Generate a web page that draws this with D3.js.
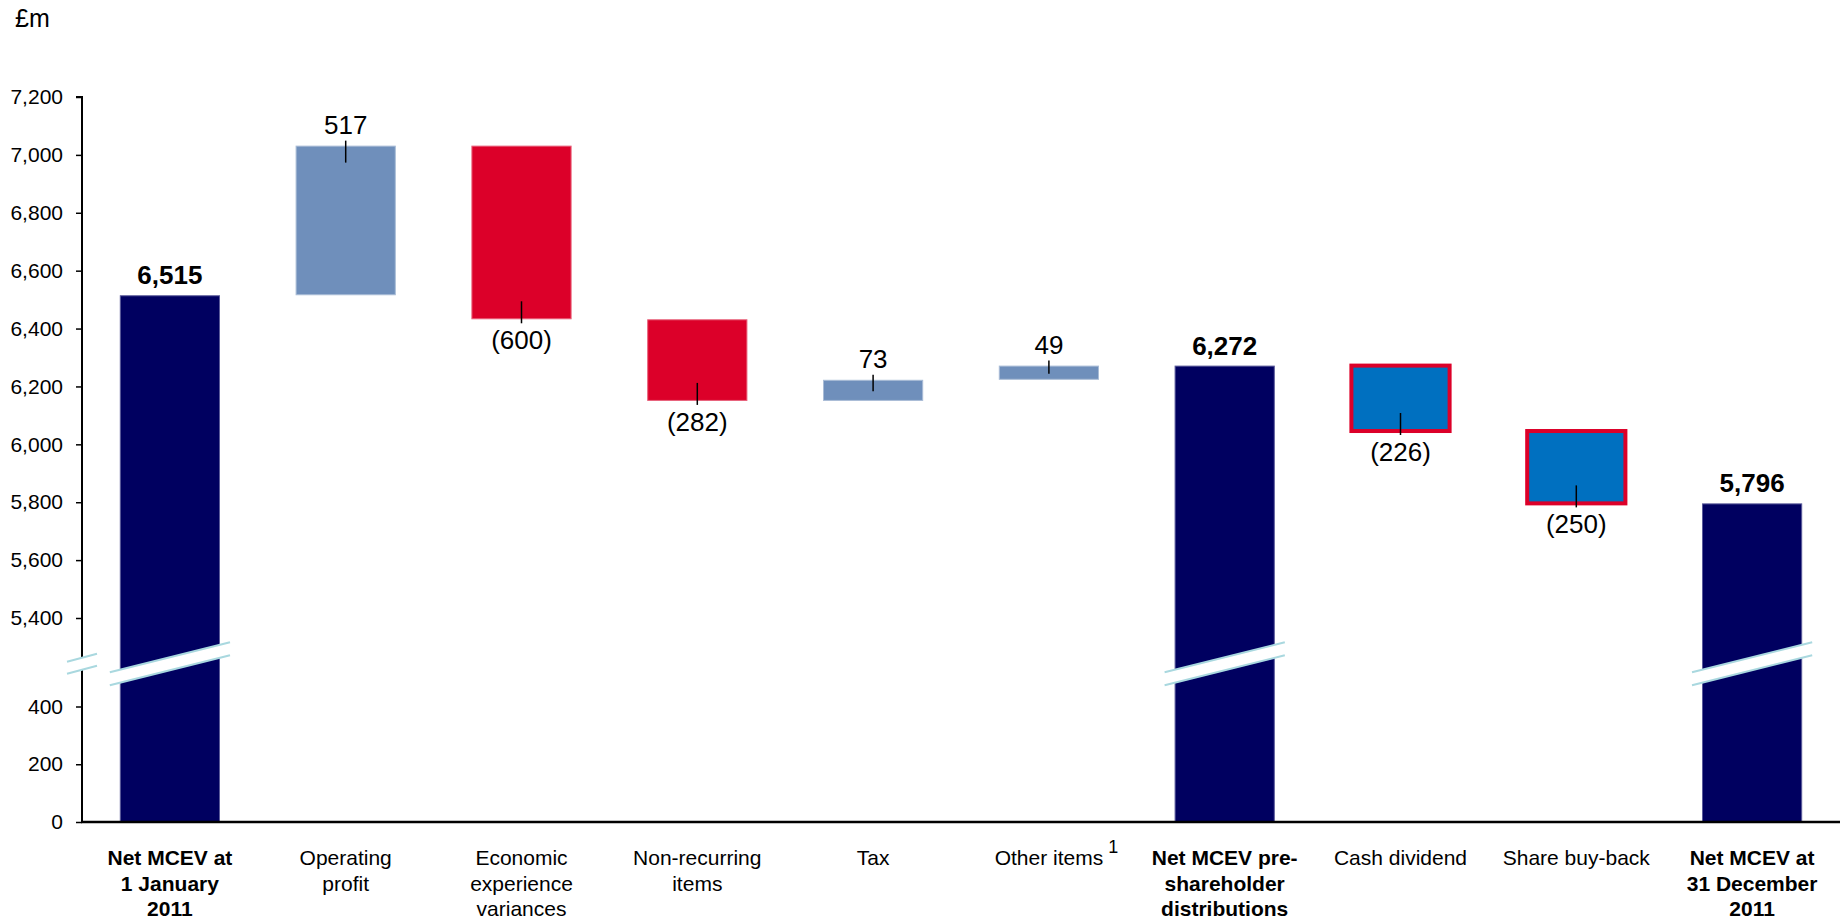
<!DOCTYPE html>
<html><head><meta charset="utf-8">
<script src="https://cdn.jsdelivr.net/npm/d3@7"></script>
<style>
body{margin:0;background:#fff}
svg text{font-family:"Liberation Sans",Arial,Helvetica,sans-serif;fill:#000}
</style>
</head><body>
<svg id="chart" width="1840" height="920"></svg>
<script>
// ---- data ----
const categoryLines = [
  ["Net MCEV at","1 January","2011"],
  ["Operating","profit"],
  ["Economic","experience","variances"],
  ["Non-recurring","items"],
  ["Tax"],
  ["Other items"],
  ["Net MCEV pre-","shareholder","distributions"],
  ["Cash dividend"],
  ["Share buy-back"],
  ["Net MCEV at","31 December","2011"]
];
const values = [6515, 517, -600, -282, 73, 49, 6272, -226, -250, 5796];
const kinds = ["total","up","down","down","up","up","total","dist","dist","total"];
const valueLabels = ["6,515","517","(600)","(282)","73","49","6,272","(226)","(250)","5,796"];
const yTickValues = [0,200,400,5400,5600,5800,6000,6200,6400,6600,6800,7000,7200];
const footnoteIndex = 5;
const footnoteMark = "1";
const unitLabel = "£m";

// ---- layout ----
const axisX = 82, axisRight = 1840;
const svg = d3.select("#chart");

const x = d3.scaleBand().domain(d3.range(values.length))
  .range([axisX, axisRight]).paddingInner(0.43).paddingOuter(0.215);
// broken axis: 0..400 lower segment, 5400..7200 upper segment
const y = d3.scaleLinear().domain([0, 400, 5400, 7200]).range([822, 706.5, 618, 97]);

const colors = {total:"#000060", up:"#6f8fbb", down:"#dc0029", dist:"#0070c0"};
const strokes = {total:"#5a5a9a", up:"#a9bcd6", down:"#e8607a", dist:"#dc0029"};

// compute waterfall extents
let running = 0;
const bars = values.map((v,i) => {
  let a, b;
  if (kinds[i] === "total") { a = 0; b = v; running = v; }
  else { a = running; b = running + v; running = b; }
  return {i, v, lo: Math.min(a,b), hi: Math.max(a,b), kind: kinds[i]};
});

// unit label
svg.append("text").attr("x", 15).attr("y", 27).attr("font-size", 25).text(unitLabel);

// bars
svg.append("g").selectAll("rect").data(bars).join("rect")
  .attr("x", d => x(d.i) + (d.kind === "dist" ? 1 : 0.5))
  .attr("width", d => x.bandwidth() - (d.kind === "dist" ? 2 : 1))
  .attr("y", d => y(d.hi) + (d.kind === "dist" ? 0 : 0.5))
  .attr("height", d => y(d.lo) - y(d.hi) - (d.kind === "dist" ? 0 : 1))
  .attr("fill", d => colors[d.kind])
  .attr("stroke", d => strokes[d.kind])
  .attr("stroke-width", d => d.kind === "dist" ? 4 : 1);

// break bands on total bars
const bandMid = (y(400) + y(5400)) / 2 + 1.5;
const slope = 0.25, half = 6.5;
const breaks = svg.append("g");
bars.filter(d => d.kind === "total").forEach(d => {
  const cx = x(d.i) + x.bandwidth()/2;
  const xl = x(d.i) - 10, xr = x(d.i) + x.bandwidth() + 10;
  const yy = (xx, off) => bandMid + off - slope * (xx - cx);
  breaks.append("polygon")
    .attr("points", [[xl,yy(xl,-half)],[xr,yy(xr,-half)],[xr,yy(xr,half)],[xl,yy(xl,half)]].map(p=>p.join(",")).join(" "))
    .attr("fill", "#fff");
  [-half, half].forEach(off => {
    breaks.append("line").attr("x1", xl).attr("y1", yy(xl,off)).attr("x2", xr).attr("y2", yy(xr,off))
      .attr("stroke", "#a9d8df").attr("stroke-width", 2);
  });
});

// y axis
const yAxis = d3.axisLeft(y).tickValues(yTickValues).tickFormat(d3.format(",")).tickSize(6).tickPadding(13);
const gy = svg.append("g").attr("transform", `translate(${axisX},0)`).call(yAxis);
gy.select(".domain").attr("stroke", "#000").attr("stroke-width", 2).attr("d", `M-6,${y(7200)}H0V${y(0)}`);
gy.selectAll(".tick line").attr("stroke", "#000").attr("stroke-width", 1.5);
gy.selectAll(".tick text").attr("font-size", 21).attr("font-family", '"Liberation Sans",Arial,sans-serif').attr("fill","#000");

// axis break marks
{
  const cx = axisX, xl = axisX - 15, xr = axisX + 15, s = 0.27;
  const yy = (xx, off) => bandMid + off - s * (xx - cx);
  svg.append("polygon")
    .attr("points", [[xl,yy(xl,-6)],[xr,yy(xr,-6)],[xr,yy(xr,6)],[xl,yy(xl,6)]].map(p=>p.join(",")).join(" "))
    .attr("fill", "#fff");
  [-6, 6].forEach(off => {
    svg.append("line").attr("x1", xl).attr("y1", yy(xl,off)).attr("x2", xr).attr("y2", yy(xr,off))
      .attr("stroke", "#a9d8df").attr("stroke-width", 2);
  });
}

// x axis line
svg.append("line").attr("x1", axisX - 1).attr("x2", axisRight).attr("y1", y(0)).attr("y2", y(0))
  .attr("stroke", "#000").attr("stroke-width", 2.5);

// value labels + leader ticks
const lab = svg.append("g");
bars.forEach(d => {
  const cx = x(d.i) + x.bandwidth()/2;
  const top = y(d.hi), bot = y(d.lo), h = bot - top;
  if (d.kind === "total") {
    lab.append("text").attr("x", cx).attr("y", top - 11).attr("text-anchor","middle")
      .attr("font-size", 26).attr("font-weight","bold").text(valueLabels[d.i]);
  } else if (d.v > 0) {
    const inner = Math.min(17, h/2 + 1);
    lab.append("line").attr("x1", cx).attr("x2", cx).attr("y1", top - 5).attr("y2", top + inner)
      .attr("stroke","#000").attr("stroke-width",1.5);
    lab.append("text").attr("x", cx).attr("y", top - 12).attr("text-anchor","middle")
      .attr("font-size", 26).text(valueLabels[d.i]);
  } else {
    const inner = Math.min(18, h/2 + 1);
    lab.append("line").attr("x1", cx).attr("x2", cx).attr("y1", bot - inner).attr("y2", bot + 4)
      .attr("stroke","#000").attr("stroke-width",1.5);
    lab.append("text").attr("x", cx).attr("y", bot + 30).attr("text-anchor","middle")
      .attr("font-size", 26).text(valueLabels[d.i]);
  }
});

// category labels
const cat = svg.append("g");
categoryLines.forEach((lines, i) => {
  const cx = x(i) + x.bandwidth()/2;
  const t = cat.append("text").attr("text-anchor","middle").attr("font-size", 21)
    .attr("font-weight", kinds[i] === "total" ? "bold" : "normal");
  lines.forEach((ln, k) => {
    t.append("tspan").attr("x", cx).attr("y", 865 + k * 25.5).text(ln);
  });
  if (i === footnoteIndex) {
    const w = t.node().getBBox().width;
    cat.append("text").attr("x", cx + w/2 + 5).attr("y", 853).attr("font-size", 18).text(footnoteMark);
  }
});
</script>
</body></html>
